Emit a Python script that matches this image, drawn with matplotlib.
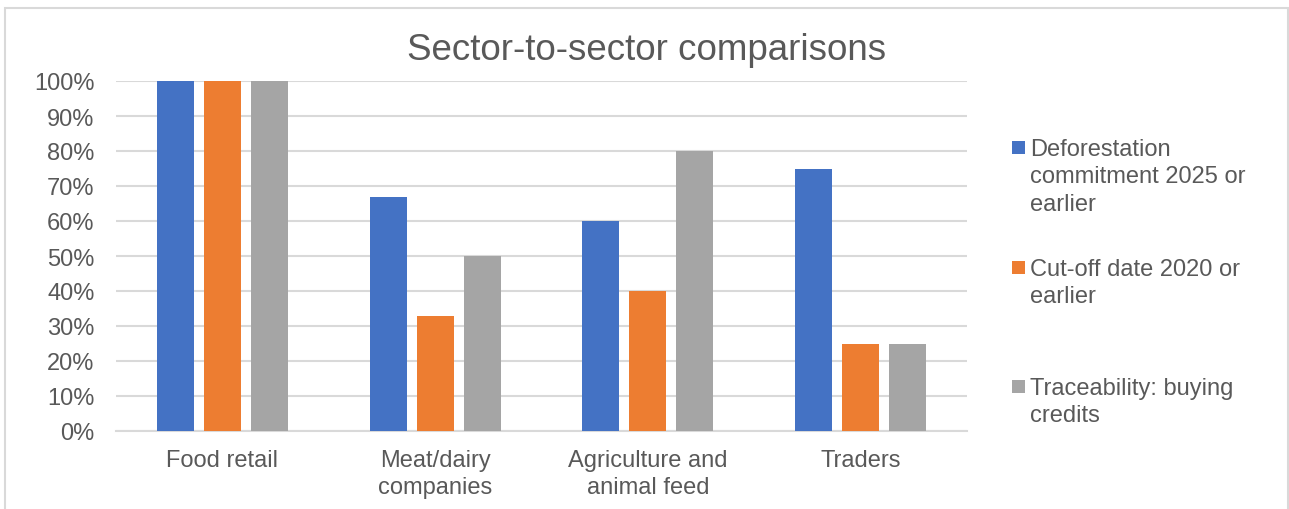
import matplotlib
matplotlib.use("Agg")
import matplotlib.pyplot as plt
from matplotlib.patches import Rectangle
from matplotlib.ticker import PercentFormatter
import numpy as np

categories = ["Food retail", "Meat/dairy\ncompanies", "Agriculture and\nanimal feed", "Traders"]
series_names = ["Deforestation\ncommitment 2025 or\nearlier",
                "Cut-off date 2020 or\nearlier",
                "Traceability: buying\ncredits"]
deforestation = [100, 67, 60, 75]
cutoff = [100, 33, 40, 25]
traceability = [100, 50, 80, 25]
yticks = [0, 10, 20, 30, 40, 50, 60, 70, 80, 90, 100]
title = "Sector-to-sector comparisons"

colors = ["#4472C4", "#ED7D31", "#A5A5A5"]
text_color = "#595959"
grid_color = "#D9D9D9"

plt.rcParams['font.family'] = ['Liberation Sans', 'DejaVu Sans']

W, H = 1289, 510
fig = plt.figure(figsize=(W / 100, H / 100), dpi=100)

def fx(px):
    return px / W

def fy(py):
    return 1 - py / H

# chart border
fig.patches.append(Rectangle((fx(5), fy(530)), fx(1288) - fx(5), fy(9) - fy(530),
                             transform=fig.transFigure, fill=False,
                             edgecolor=grid_color, linewidth=1.5))

ax = fig.add_axes([fx(116), fy(432), fx(967) - fx(116), fy(82) - fy(432)])

x = np.arange(len(categories))
bw = 0.174
step = 0.221
data = [deforestation, cutoff, traceability]
for i, (vals, c) in enumerate(zip(data, colors)):
    ax.bar(x + (i - 1) * step, vals, width=bw, color=c, zorder=3)

fs = 17
ax.set_xlim(-0.5, len(categories) - 0.5)
ax.set_ylim(0, 100)
ax.set_yticks(yticks)
ax.yaxis.set_major_formatter(PercentFormatter(decimals=0))
ax.set_xticks(x)
ax.set_xticklabels(categories, linespacing=1.32)
ax.tick_params(axis='both', length=0, labelsize=fs, colors=text_color)
ax.tick_params(axis='y', pad=15.5)
ax.tick_params(axis='x', pad=13)
ax.grid(axis='y', color=grid_color, linewidth=1.5, zorder=0)
ax.set_axisbelow(True)
for s in ['top', 'right', 'left']:
    ax.spines[s].set_visible(False)
ax.spines['bottom'].set_color(grid_color)
ax.spines['bottom'].set_linewidth(1.5)

fig.text(fx(647), fy(51), title, ha='center', va='center', fontsize=26.5, color=text_color)

# legend
leg_y = [148, 268, 387]
for name, c, yy in zip(series_names, colors, leg_y):
    fig.patches.append(Rectangle((fx(1012), fy(yy + 6.5)), fx(13), 13 / H,
                                 transform=fig.transFigure, facecolor=c, edgecolor='none'))
    fig.text(fx(1030), fy(yy - 9), name, ha='left', va='top', fontsize=fs,
             color=text_color, linespacing=1.32)

fig.savefig("out.png", dpi=100)
